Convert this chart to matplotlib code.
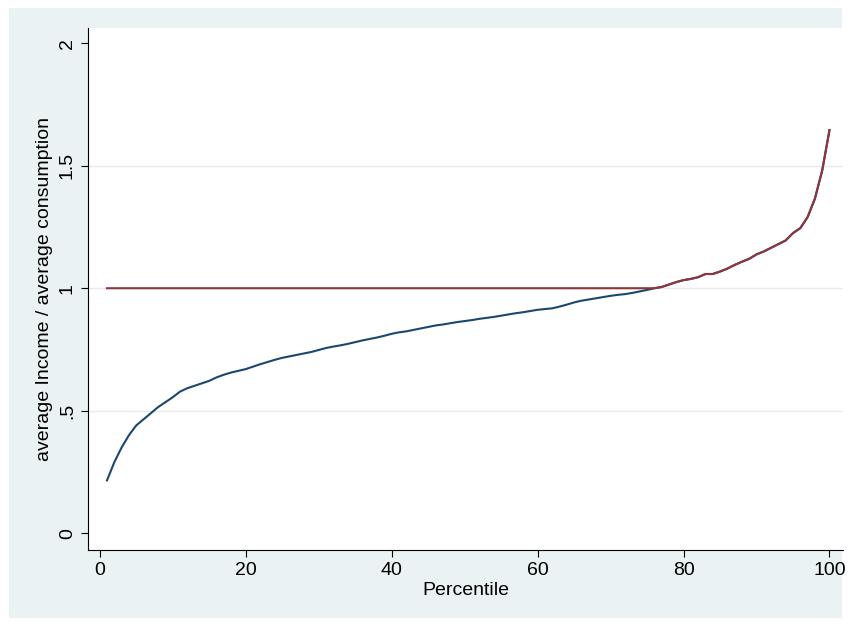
import matplotlib
matplotlib.use("Agg")
import matplotlib.pyplot as plt
import numpy as np

plt.rcParams['font.family'] = ['Liberation Sans', 'DejaVu Sans']

percentile = list(range(1, 101))
ratio = [.216,.29,.35,.40,.44,.465,.49,.515,.535,.555,
         .578,.592,.602,.612,.622,.636,.647,.656,.663,.670,
         .680,.690,.699,.708,.716,.722,.728,.734,.740,.748,
         .756,.762,.767,.773,.780,.787,.793,.799,.806,.814,
         .820,.824,.830,.836,.842,.848,.852,.857,.862,.866,
         .870,.875,.879,.883,.888,.893,.898,.902,.907,.912,
         .915,.918,.925,.933,.942,.949,.954,.959,.964,.969,
         .973,.976,.981,.987,.993,1.0,1.005,1.015,1.025,1.033,
         1.038,1.045,1.058,1.058,1.068,1.08,1.095,1.108,1.12,1.138,
         1.15,1.165,1.18,1.195,1.225,1.245,1.29,1.365,1.48,1.645]
upper = [max(v, 1.0) for v in ratio]

fig = plt.figure(figsize=(8.51, 6.26), dpi=100)
fig.patch.set_facecolor("white")
fig.patches.append(plt.Rectangle((0.01, 0.013), 0.98, 0.974, transform=fig.transFigure,
                                 facecolor="#eaf2f3", edgecolor="none", zorder=-1))
ax = fig.add_axes([0.103, 0.121, 0.888, 0.834])
ax.set_facecolor("white")
ax.plot(percentile, ratio, color="#1a476f", lw=1.5)
ax.plot(percentile, upper, color="#90353b", lw=1.5)
ax.set_xlim(-1.65, 101.9)
ax.set_ylim(-0.069, 2.061)
ax.set_yticks([0, .5, 1, 1.5, 2])
ax.set_yticklabels(["0", ".5", "1", "1.5", "2"], rotation=90, va="center")
ax.set_xticks([0, 20, 40, 60, 80, 100])
for y in [.5, 1, 1.5]:
    ax.axhline(y, color="#eaeaea", lw=1, zorder=0)
for s in ["top", "right"]:
    ax.spines[s].set_visible(False)
ax.tick_params(direction="out", length=5, labelsize=14)
ax.set_xlabel("Percentile", fontsize=14, labelpad=2)
ax.set_ylabel("average Income / average consumption", fontsize=14)
fig.savefig("out.png", facecolor=fig.get_facecolor())
